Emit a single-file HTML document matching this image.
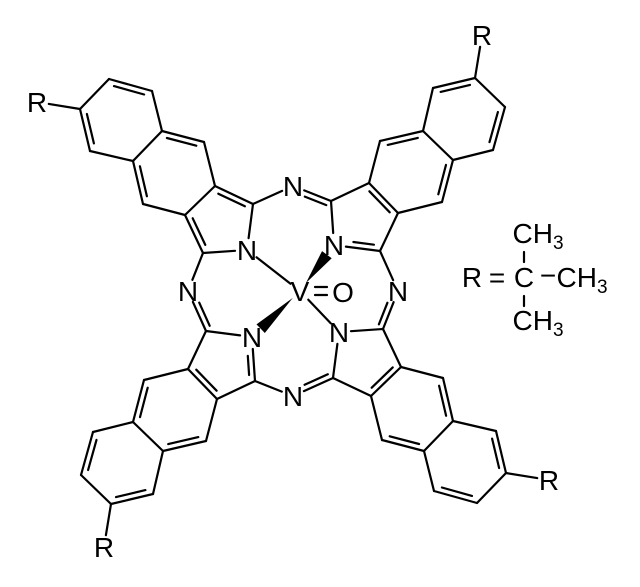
<!DOCTYPE html>
<html><head><meta charset="utf-8">
<style>html,body{margin:0;padding:0;background:#fff;}svg{display:block;}</style>
</head><body>
<svg id="s" width="640" height="587" viewBox="0 0 640 587" xmlns="http://www.w3.org/2000/svg" font-family="Liberation Sans, sans-serif" fill="#000">
<g id="g" stroke="#000" stroke-width="2.2" stroke-linecap="round" fill="none"></g>
<g id="w" fill="#000" stroke="none"></g>
<g font-size="28" text-anchor="middle">
<text x="300" y="301">V</text>
<text x="343" y="302">O</text>
<text x="472" y="287">R</text>
<text x="497" y="287">=</text>
<text x="524" y="287">C</text>
<text x="548" y="285">−</text>
<text x="582" y="287">CH<tspan font-size="19" dy="6">3</tspan></text>
<text x="538" y="243">CH<tspan font-size="19" dy="6">3</tspan></text>
<text x="538" y="330">CH<tspan font-size="19" dy="6">3</tspan></text>
</g>
<g id="t" font-size="28" text-anchor="middle"></g>
</svg>
<script>
const C=[293,291];
const B={a1:[80,109],a2:[109,79],a3:[152,91],a4:[162,131],a5:[133,161],a6:[90,151],
b1:[204,142],b2:[215,186],b3:[185,215],b4:[143,204],c1:[253,204],c2:[203,253],N1:[247,250],Nt:[293,186],R:[37,102]};
function rot(p,k){let dx=p[0]-C[0],dy=p[1]-C[1];for(let i=0;i<k;i++){const t=dx;dx=-dy;dy=t;}return [C[0]+dx,C[1]+dy];}
const U=[];for(let k=0;k<4;k++){const o={};for(const n in B)o[n]=rot(B[n],k);U.push(o);}
let svg='';
function trim(a,b,ta,tb){const dx=b[0]-a[0],dy=b[1]-a[1],L=Math.hypot(dx,dy),ux=dx/L,uy=dy/L;
return [[a[0]+ux*ta,a[1]+uy*ta],[b[0]-ux*tb,b[1]-uy*tb]];}
function ln(a,b){svg+=`<line x1="${a[0].toFixed(1)}" y1="${a[1].toFixed(1)}" x2="${b[0].toFixed(1)}" y2="${b[1].toFixed(1)}"/>`;}
function bond(a,b,ta=0,tb=0){const [p,q]=trim(a,b,ta,tb);ln(p,q);return [p,q];}
function inner(a,b,ref,ta=0,tb=0,sh=0.15){const [p,q]=trim(a,b,ta,tb);ln(p,q);
const dx=q[0]-p[0],dy=q[1]-p[1],L=Math.hypot(dx,dy);let nx=-dy/L,ny=dx/L;
const mx=(p[0]+q[0])/2,my=(p[1]+q[1])/2;if((ref[0]-mx)*nx+(ref[1]-my)*ny<0){nx=-nx;ny=-ny;}
const o=5.5;ln([p[0]+dx*sh+nx*o,p[1]+dy*sh+ny*o],[q[0]-dx*sh+nx*o,q[1]-dy*sh+ny*o]);}
function avg(...ps){let x=0,y=0;ps.forEach(p=>{x+=p[0];y+=p[1]});return [x/ps.length,y/ps.length];}
const T=12;
let txt='';
for(let k=0;k<4;k++){const u=U[k];
 const ra=avg(u.a1,u.a2,u.a3,u.a4,u.a5,u.a6), rb=avg(u.a4,u.b1,u.b2,u.b3,u.b4,u.a5), rp=avg(u.b2,u.c1,u.N1,u.c2,u.b3);
 bond(u.R,u.a1,12,0);
 bond(u.a1,u.a2);inner(u.a2,u.a3,ra);bond(u.a3,u.a4);bond(u.a4,u.a5);bond(u.a5,u.a6);inner(u.a6,u.a1,ra);
 inner(u.a4,u.b1,rb);bond(u.b1,u.b2);bond(u.b3,u.b4);inner(u.b4,u.a5,rb);
 if(k==0){bond(u.b2,u.b3);inner(u.b2,u.c1,rp);inner(u.b3,u.c2,rp);}
 else{inner(u.b2,u.b3,rp);bond(u.b2,u.c1);bond(u.b3,u.c2);}
 if(k==1) inner(u.c1,u.N1,rp,0,T,0.2); else bond(u.c1,u.N1,0,T);
 if(k==3) inner(u.c2,u.N1,rp,0,T,0.2); else bond(u.c2,u.N1,0,T);
 const nx=U[(k+1)%4];
 if(k<2){bond(u.c1,u.Nt,0,T);inner(nx.c2,u.Nt,C,0,T,0.1);}
 else{inner(u.c1,u.Nt,C,0,T,0.1);bond(nx.c2,u.Nt,0,T);}
 txt+=`<text x="${u.Nt[0]}" y="${u.Nt[1]+10}">N</text><text x="${u.N1[0]}" y="${u.N1[1]+10}">N</text><text x="${u.R[0]}" y="${u.R[1]+10}">R</text>`;
}
const V=[300,291];
bond(U[0].N1,V,T,12);bond(U[2].N1,V,T,12);
ln([315,287],[327,287]);ln([315,295],[327,295]);
ln([524,252],[524,262]);ln([524,296],[524,306]);
document.getElementById('g').innerHTML=svg;
let w='';
[1,3].forEach(k=>{const N=U[k].N1;const [p,q]=trim(V,N,10,12);const dx=q[0]-p[0],dy=q[1]-p[1],L=Math.hypot(dx,dy);const nx=-dy/L*6,ny=dx/L*6;
w+=`<polygon points="${p[0]},${p[1]} ${q[0]+nx},${q[1]+ny} ${q[0]-nx},${q[1]-ny}"/>`;});
document.getElementById('w').innerHTML=w;
document.getElementById('t').innerHTML=txt;
</script>
</body></html>
